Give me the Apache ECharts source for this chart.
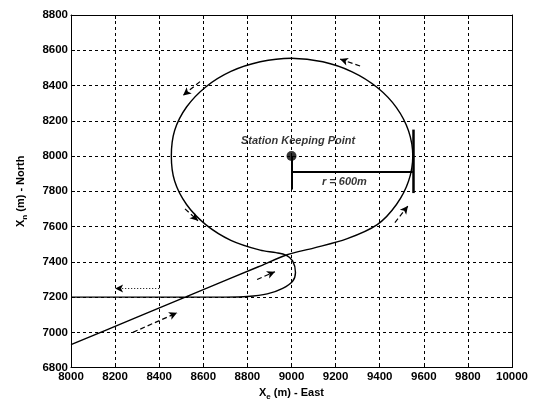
<!DOCTYPE html>
<html>
<head>
<meta charset="utf-8">
<script src="https://cdn.jsdelivr.net/npm/echarts@6/dist/echarts.min.js"></script>
<style>html,body{margin:0;padding:0;background:#fff}#c{width:541px;height:406px}</style>
</head>
<body>
<div id="c"></div>
<script>
// Axis ticks
const xTicks = [8000, 8200, 8400, 8600, 8800, 9000, 9200, 9400, 9600, 9800, 10000];
const yTicks = [6800, 7000, 7200, 7400, 7600, 7800, 8000, 8200, 8400, 8600, 8800];

// Vessel trajectory (East, North)
const pathEast = [8000, 8300, 8600, 8850, 8980, 9100, 9250, 9389, 9476, 9531, 9550, 9531, 9476, 9389, 9275, 9142, 9000, 8858, 8725, 8611, 8524, 8470, 8455, 8470, 8524, 8611, 8725, 8858, 8930, 8975, 9005, 9018, 9005, 8960, 8890, 8800, 8700, 8000];
const pathNorth = [6930, 7086, 7242, 7372, 7440, 7478, 7530, 7611, 7725, 7858, 8000, 8142, 8275, 8389, 8478, 8535, 8555, 8535, 8480, 8392, 8278, 8145, 8000, 7858, 7725, 7611, 7522, 7466, 7452, 7438, 7405, 7340, 7290, 7250, 7218, 7203, 7200, 7200];

// Station keeping point
const stationPoint = [9000, 8000];
const stationLabel = 'Station Keeping Point';
const stationLabelAt = [9030, 8085];
// radius annotation
const radiusText = 'r = 600m';
const radiusTextAt = [9240, 7855];
const radiusLeg = [[9000, 8000], [9000, 7810]];
const radiusLine = [[9000, 7911], [9550, 7911]];
const radiusBar = [[9550, 8150], [9550, 7790]];

// Direction arrows: [from, to]
const arrowsDashed = [
  [[8281, 7000], [8481, 7111]],
  [[8844, 7300], [8925, 7344]],
  [[9469, 7622], [9528, 7717]],
  [[9311, 8511], [9220, 8550]],
  [[8585, 8422], [8508, 8344]],
  [[8517, 7700], [8576, 7633]]
];
const arrowsDotted = [
  [[8400, 7248], [8200, 7248]]
];

const chart = echarts.init(document.getElementById('c'), null, {renderer: 'canvas'});
const font = 'Liberation Sans, Arial, sans-serif';
const labelStyle = {color: '#000', fontSize: 11.5, fontWeight: 'bold', fontFamily: font, formatter: v => String(v)};
const gridDash = {color: '#000', type: [3, 3], width: 1};

function pairs(a) { return a.map(s => [{coord: s[0]}, {coord: s[1]}]); }

const option = {
  animation: false,
  backgroundColor: '#fff',
  grid: {left: 71, top: 15, right: 29, bottom: 31, containLabel: false},
  xAxis: [{
    type: 'value', min: xTicks[0], max: xTicks[xTicks.length - 1], interval: 200,
    name: '{m|X}{s|e}{m| (m) - East}', nameLocation: 'middle', nameGap: 17,
    nameTextStyle: {rich: {
      m: {fontSize: 11, fontWeight: 'bold', fontFamily: font, color: '#000'},
      s: {fontSize: 8, fontWeight: 'bold', fontFamily: font, color: '#000', padding: [8, 0, 0, 0]}
    }},
    axisLine: {show: true, onZero: false, lineStyle: {color: '#000', width: 1}},
    axisTick: {show: true, inside: true, length: 4, lineStyle: {color: '#000'}},
    axisLabel: Object.assign({margin: 3}, labelStyle),
    splitLine: {show: true, lineStyle: gridDash}
  }, {
    type: 'value', position: 'top', min: xTicks[0], max: xTicks[xTicks.length - 1], interval: 200,
    axisLine: {show: true, onZero: false, lineStyle: {color: '#000', width: 1}},
    axisTick: {show: true, inside: true, length: 4, lineStyle: {color: '#000'}},
    axisLabel: {show: false}, splitLine: {show: false}
  }],
  yAxis: [{
    type: 'value', min: yTicks[0], max: yTicks[yTicks.length - 1], interval: 200,
    name: '{m|X}{s|n}{m| (m) - North}', nameLocation: 'middle', nameGap: 42, nameRotate: 90,
    nameTextStyle: {rich: {
      m: {fontSize: 11, fontWeight: 'bold', fontFamily: font, color: '#000'},
      s: {fontSize: 8, fontWeight: 'bold', fontFamily: font, color: '#000', padding: [8, 0, 0, 0]}
    }},
    axisLine: {show: true, onZero: false, lineStyle: {color: '#000', width: 1}},
    axisTick: {show: true, inside: true, length: 4, lineStyle: {color: '#000'}},
    axisLabel: Object.assign({margin: 3}, labelStyle),
    splitLine: {show: true, lineStyle: gridDash}
  }, {
    type: 'value', position: 'right', min: yTicks[0], max: yTicks[yTicks.length - 1], interval: 200,
    axisLine: {show: true, onZero: false, lineStyle: {color: '#000', width: 1}},
    axisTick: {show: true, inside: true, length: 4, lineStyle: {color: '#000'}},
    axisLabel: {show: false}, splitLine: {show: false}
  }],
  series: [
    {
      type: 'line', name: 'path', smooth: 0.3, showSymbol: false, symbol: 'none',
      data: pathEast.map((e, i) => [e, pathNorth[i]]),
      lineStyle: {color: '#000', width: 1.4},
      markLine: {
        silent: true, symbol: ['none', 'arrow'], symbolSize: [6, 8],
        label: {show: false},
        lineStyle: {color: '#000', type: [5, 3], width: 1.2},
        data: pairs(arrowsDashed)
      },
      z: 5
    },
    {
      type: 'line', name: 'dotted', showSymbol: false, symbol: 'none',
      data: [],
      markLine: {
        silent: true, symbol: ['none', 'arrow'], symbolSize: [6, 8],
        label: {show: false},
        lineStyle: {color: '#000', type: [1, 2], width: 1.2},
        data: pairs(arrowsDotted)
      }
    },
    {
      type: 'line', name: 'annot', showSymbol: false, symbol: 'none', data: [],
      markLine: {
        silent: true, symbol: ['none', 'none'], label: {show: false},
        lineStyle: {color: '#000', type: 'solid', width: 2},
        data: pairs([radiusLeg, radiusLine])
      }
    },
    {
      type: 'line', name: 'bar', showSymbol: false, symbol: 'none', data: [],
      markLine: {
        silent: true, symbol: ['none', 'none'], label: {show: false},
        lineStyle: {color: '#000', type: 'solid', width: 2.5},
        data: pairs([radiusBar])
      }
    },
    {
      type: 'scatter', name: 'station', symbol: 'circle', symbolSize: 10,
      itemStyle: {color: '#000'}, data: [stationPoint], z: 6
    },
    {
      type: 'scatter', name: 'labels', symbolSize: 0, silent: true,
      data: [
        {value: stationLabelAt, label: {formatter: stationLabel}},
        {value: radiusTextAt, label: {formatter: radiusText}}
      ],
      label: {show: true, position: 'inside', color: '#000', fontSize: 11, fontWeight: 'bold', fontStyle: 'italic', fontFamily: font},
      z: 7
    }
  ]
};
chart.setOption(option);
</script>
</body>
</html>
